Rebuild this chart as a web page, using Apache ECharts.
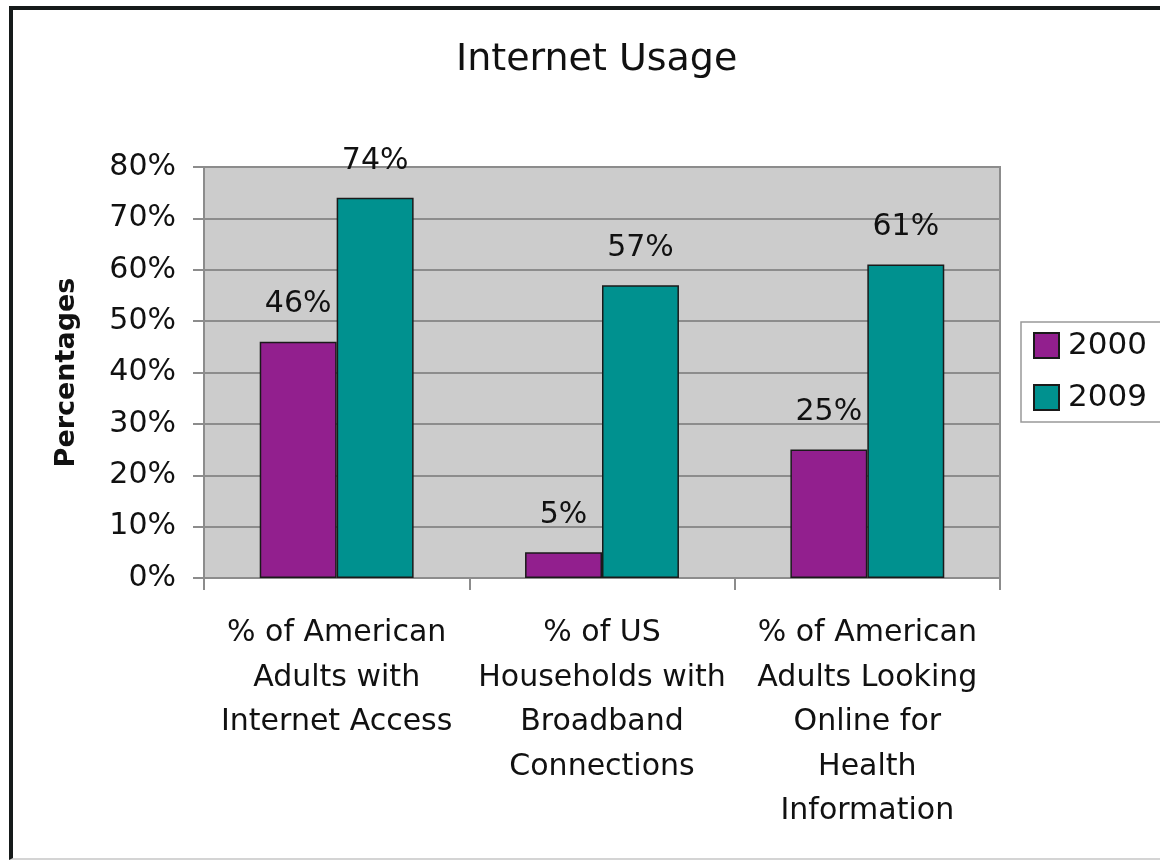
<!DOCTYPE html>
<html>
<head>
<meta charset="utf-8">
<script src="https://cdn.jsdelivr.net/npm/echarts@6/dist/echarts.min.js"></script>
<style>
  html, body { margin: 0; padding: 0; background: #fff; }
  #frame {
    position: absolute; left: 9px; top: 6px; width: 1200px; height: 854px;
    border-left: 4px solid #161a1a; border-top: 4px solid #161a1a;
    border-bottom: 2px solid #d4d4d4; box-sizing: border-box;
  }
  #chart { position: absolute; left: 0; top: 0; width: 1160px; height: 864px; }
</style>
</head>
<body>
<div id="frame"></div>
<div id="chart"></div>
<script>
const categories = [
  '% of American\nAdults with\nInternet Access',
  '% of US\nHouseholds with\nBroadband\nConnections',
  '% of American\nAdults Looking\nOnline for\nHealth\nInformation',
];
const years = ['2000', '2009'];
const values2000 = [46, 5, 25];
const values2009 = [74, 57, 61];
const yTicks = [0, 80, 10]; // min, max, step

const font = 'DejaVu Sans';
const gridLine = '#8c8c8c';

const chart = echarts.init(document.getElementById('chart'));

const labelStyle = {
  show: true,
  position: 'top',
  distance: 22,
  formatter: '{c}%',
  fontFamily: font,
  fontSize: 30,
  color: '#111',
};

const option = {
  animation: false,
  title: {
    text: 'Internet Usage',
    left: 451,
    top: 36,
    textStyle: { fontFamily: font, fontSize: 38, fontWeight: 'normal', color: '#111' },
  },
  legend: {
    data: years,
    orient: 'vertical',
    left: 1021,
    top: 322,
    padding: [8, 60, 9, 12],
    backgroundColor: '#fff',
    borderColor: '#999',
    borderWidth: 1.5,
    borderRadius: 0,
    itemWidth: 25,
    itemHeight: 25,
    itemGap: 21,
    icon: 'rect',
    textStyle: { fontFamily: font, fontSize: 31, color: '#111', padding: [0, 0, 0, 4] },
  },
  grid: {
    left: 204,
    right: 160,
    top: 167,
    bottom: 286,
    show: true,
    backgroundColor: '#cccccc',
    borderColor: '#8c8c8c',
    borderWidth: 2,
  },
  xAxis: {
    type: 'category',
    data: categories,
    axisLine: { lineStyle: { color: gridLine, width: 2 } },
    axisTick: { show: true, length: 12, alignWithLabel: false, lineStyle: { color: gridLine, width: 2 } },
    axisLabel: {
      interval: 0,
      margin: 33,
      fontFamily: font,
      fontSize: 30,
      lineHeight: 44.5,
      color: '#111',
    },
  },
  yAxis: {
    type: 'value',
    min: yTicks[0],
    max: yTicks[1],
    interval: yTicks[2],
    name: 'Percentages',
    nameLocation: 'middle',
    nameRotate: 90,
    nameGap: 124,
    nameTextStyle: { fontFamily: font, fontSize: 27, fontWeight: 'bold', color: '#111' },
    axisLine: { show: true, lineStyle: { color: gridLine, width: 2 } },
    axisTick: { show: true, length: 11, lineStyle: { color: gridLine, width: 2 } },
    axisLabel: { formatter: '{value}%', margin: 28, fontFamily: font, fontSize: 30, color: '#111' },
    splitLine: { lineStyle: { color: gridLine, width: 2 } },
  },
  series: [
    {
      name: years[0],
      type: 'bar',
      data: values2000,
      barGap: '0%',
      barCategoryGap: '42%',
      itemStyle: { color: '#921f8e', borderColor: '#1a1a1a', borderWidth: 1.5 },
      label: labelStyle,
    },
    {
      name: years[1],
      type: 'bar',
      data: values2009,
      itemStyle: { color: '#00918f', borderColor: '#1a1a1a', borderWidth: 1.5 },
      label: labelStyle,
    },
  ],
};

chart.setOption(option);
</script>
</body>
</html>
